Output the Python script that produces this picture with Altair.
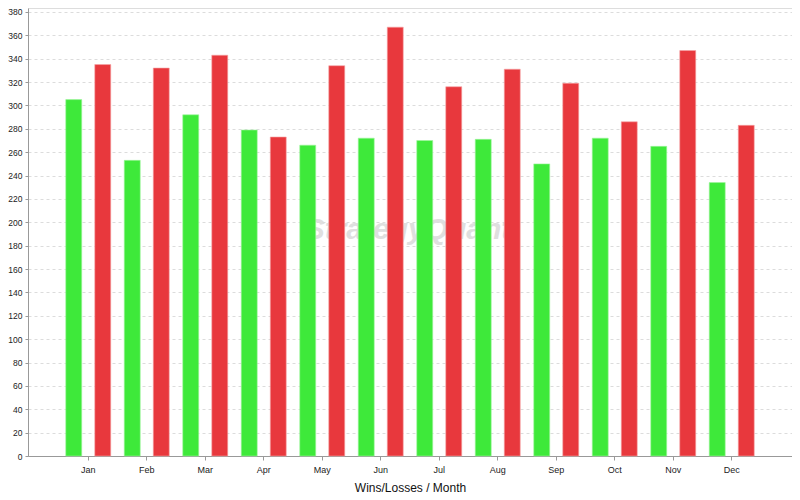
import altair as alt
import pandas as pd

months = ["Jan", "Feb", "Mar", "Apr", "May", "Jun", "Jul", "Aug", "Sep", "Oct", "Nov", "Dec"]
wins = [305, 253, 292, 279, 266, 272, 270, 271, 250, 272, 265, 234]
losses = [335, 332, 343, 273, 334, 367, 316, 331, 319, 286, 347, 283]
y_ticks = list(range(0, 381, 20))

rows = []
for m, w, l in zip(months, wins, losses):
    rows.append({"month": m, "kind": "Wins", "value": w})
    rows.append({"month": m, "kind": "Losses", "value": l})
df = pd.DataFrame(rows)

base = alt.Chart(df)

bars = base.mark_bar(strokeWidth=1, strokeOpacity=0.6).encode(
    x=alt.X("month:N", sort=months,
            scale=alt.Scale(paddingInner=0, paddingOuter=0.53),
            axis=alt.Axis(title="Wins/Losses / Month", labelAngle=0, grid=False,
                          labelFontSize=9, labelColor="#222", tickSize=4, tickColor="#999",
                          domainColor="#999", labelPadding=5,
                          titleFontSize=12, titleFontWeight="normal", titleColor="#111",
                          titleFont="Liberation Sans", labelFont="Liberation Sans",
                          titlePadding=8)),
    xOffset=alt.XOffset("kind:N", sort=["Wins", "Losses"],
                        scale=alt.Scale(paddingInner=0.45, paddingOuter=0.233)),
    y=alt.Y("value:Q", scale=alt.Scale(domain=[0, 383.4], nice=False, zero=True),
            axis=alt.Axis(title=None, values=y_ticks, labelFontSize=8.5, labelColor="#222",
                          labelFont="Liberation Sans", tickSize=3, tickColor="#999",
                          domainColor="#999", labelPadding=3,
                          gridColor="#dcdcdc", gridDash=[3, 3], gridWidth=1)),
    color=alt.Color("kind:N", scale=alt.Scale(domain=["Wins", "Losses"],
                                               range=["#3ee93a", "#e8383d"]), legend=None),
    stroke=alt.Stroke("kind:N", scale=alt.Scale(domain=["Wins", "Losses"],
                                                 range=["#9ff59c", "#f5a3a5"]), legend=None),
)

watermark = alt.Chart(pd.DataFrame({"t": ["StrategyQuant"]})).mark_text(
    fontSize=30, fontStyle="italic", fontWeight="bold", color="#dcdcdc",
    font="Liberation Sans", opacity=0.9, align="center", baseline="middle"
).encode(text="t:N", x=alt.value(380), y=alt.value(222))

chart = (watermark + bars).properties(
    width=764, height=448,
    autosize=alt.AutoSizeParams(type="none"),
    padding={"left": 20, "top": 0, "right": 0, "bottom": 44},
).configure_view(stroke="#b8b8b8", strokeWidth=1).configure(background="white")

chart.save("out.html", embed_options={"renderer": "svg", "actions": False})
